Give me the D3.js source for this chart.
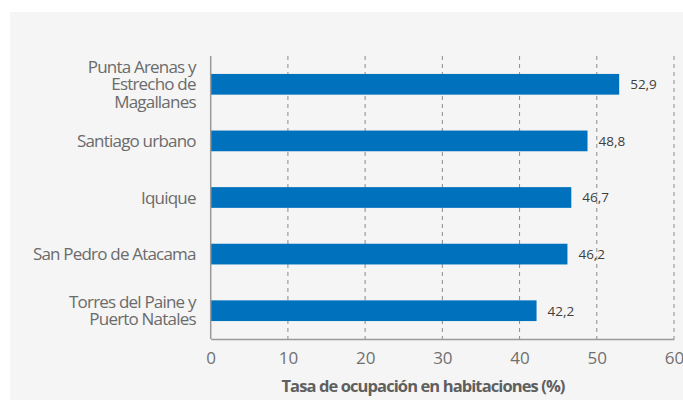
<!DOCTYPE html>
<html>
<head>
<meta charset="utf-8">
<script src="https://cdn.jsdelivr.net/npm/d3@7"></script>
<style>
  body { margin: 0; background: #ffffff; }
  svg { display: block; font-family: "Open Sans", sans-serif; }
</style>
</head>
<body>
<script>
// chart data
var categories = [
    ["Punta Arenas y", "Estrecho de", "Magallanes"],
    ["Santiago urbano"],
    ["Iquique"],
    ["San Pedro de Atacama"],
    ["Torres del Paine y", "Puerto Natales"]
];
var values = [52.9, 48.8, 46.7, 46.2, 42.2];
var xTicks = [0, 10, 20, 30, 40, 50, 60];
var axisTitle = "Tasa de ocupación en habitaciones (%)";

var svgWidth = 683;
var svgHeight = 400;

var margin = { top: 56, right: 9, bottom: 61, left: 210.7 };
var chartWidth = svgWidth - margin.left - margin.right;
var chartHeight = svgHeight - margin.top - margin.bottom;

var svg = d3.select("body")
    .append("svg")
    .attr("width", svgWidth)
    .attr("height", svgHeight);

// gray panel
svg.append("rect")
    .attr("x", 10)
    .attr("y", 12)
    .attr("width", svgWidth - 10)
    .attr("height", svgHeight - 12)
    .attr("fill", "#f5f5f5");

var chartGroup = svg.append("g")
    .attr("transform", `translate(${margin.left}, ${margin.top})`);

var x = d3.scaleLinear()
    .domain([0, 60])
    .range([0, chartWidth]);

var y = d3.scaleBand()
    .domain(d3.range(categories.length))
    .range([0, chartHeight])
    .paddingInner(0.634)
    .paddingOuter(0.317);

// dashed gridlines
chartGroup.selectAll(".grid")
    .data(xTicks.filter(d => d > 0))
    .enter()
    .append("line")
    .attr("x1", d => x(d))
    .attr("x2", d => x(d))
    .attr("y1", 0)
    .attr("y2", chartHeight)
    .attr("stroke", "#8c8c8c")
    .attr("stroke-width", 1)
    .attr("stroke-dasharray", "4,4");

// bars
chartGroup.selectAll(".bar")
    .data(values)
    .enter()
    .append("rect")
    .attr("x", 0)
    .attr("y", (d, i) => y(i))
    .attr("width", d => x(d))
    .attr("height", y.bandwidth())
    .attr("fill", "#0071bc");

// value labels
chartGroup.selectAll(".val")
    .data(values)
    .enter()
    .append("text")
    .attr("x", d => x(d) + 11)
    .attr("y", (d, i) => y(i) + y.bandwidth() / 2 + 4.8)
    .attr("font-size", "13.5px")
    .attr("fill", "#404040")
    .text(d => d.toFixed(1).replace(".", ","));

// x axis
var bottomAxis = d3.axisBottom(x)
    .tickValues(xTicks)
    .tickSize(0)
    .tickPadding(13);

var xAxis = chartGroup.append("g")
    .attr("transform", `translate(0, ${chartHeight})`)
    .call(bottomAxis);
xAxis.select(".domain").attr("stroke", "#9a9a9a").attr("stroke-width", 1.5);
xAxis.selectAll("text")
    .attr("font-size", "17px")
    .attr("font-family", "Open Sans, sans-serif")
    .attr("fill", "#707070");

// y axis line
chartGroup.append("line")
    .attr("x1", 0)
    .attr("x2", 0)
    .attr("y1", 0)
    .attr("y2", chartHeight)
    .attr("stroke", "#9a9a9a")
    .attr("stroke-width", 1.5);

// category labels
var lineHeight = 17.4;
var catLabels = chartGroup.selectAll(".cat")
    .data(categories)
    .enter()
    .append("text")
    .attr("text-anchor", "end")
    .attr("font-size", "17px")
    .attr("letter-spacing", "-0.8px")
    .attr("fill", "#6b6b6b")
    .attr("transform", (d, i) => {
        var cy = y(i) + y.bandwidth() / 2;
        var firstBase = cy + 6 - (d.length - 1) * lineHeight / 2;
        return `translate(-15, ${firstBase})`;
    });

catLabels.selectAll("tspan")
    .data(d => d)
    .enter()
    .append("tspan")
    .attr("x", 0)
    .attr("y", (d, i) => i * lineHeight)
    .text(d => d);

// axis title
svg.append("text")
    .attr("x", 423)
    .attr("y", 391.5)
    .attr("text-anchor", "middle")
    .attr("font-size", "16.5px")
    .attr("font-weight", "bold")
    .attr("letter-spacing", "-0.9px")
    .attr("fill", "#5f5f5f")
    .text(axisTitle);
</script>
</body>
</html>
